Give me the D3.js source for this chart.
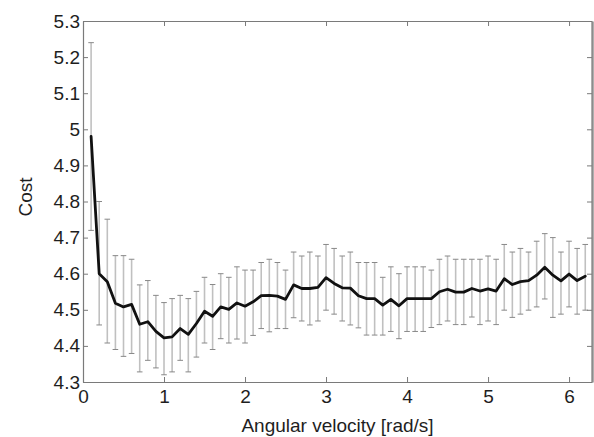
<!DOCTYPE html>
<html>
<head>
<meta charset="utf-8">
<script src="https://cdn.jsdelivr.net/npm/d3@7"></script>
<style>
  html, body { margin: 0; padding: 0; background: #fff; }
  svg { display: block; }
  text { font-family: "Liberation Sans", Arial, Helvetica, sans-serif; }
</style>
</head>
<body>
<svg id="chart" width="594" height="437"></svg>
<script>
// ---- data ----
const velocity = [0.1,0.2,0.3,0.4,0.5,0.6,0.7,0.8,0.9,1.0,
  1.1,1.2,1.3,1.4,1.5,1.6,1.7,1.8,1.9,2.0,
  2.1,2.2,2.3,2.4,2.5,2.6,2.7,2.8,2.9,3.0,
  3.1,3.2,3.3,3.4,3.5,3.6,3.7,3.8,3.9,4.0,
  4.1,4.2,4.3,4.4,4.5,4.6,4.7,4.8,4.9,5.0,
  5.1,5.2,5.3,5.4,5.5,5.6,5.7,5.8,5.9,6.0,
  6.1,6.2];
const meanCost = [4.98,4.60,4.578,4.518,4.508,4.515,4.46,4.467,4.44,4.422,
  4.425,4.448,4.432,4.462,4.496,4.482,4.508,4.501,4.519,4.51,
  4.522,4.539,4.54,4.538,4.529,4.569,4.559,4.559,4.562,4.589,
  4.573,4.561,4.56,4.539,4.531,4.531,4.513,4.529,4.511,4.531,
  4.531,4.531,4.531,4.55,4.557,4.549,4.549,4.559,4.552,4.558,
  4.552,4.586,4.57,4.578,4.581,4.596,4.618,4.596,4.58,4.599,
  4.581,4.593];
const upperCost = [5.24,4.80,4.751,4.65,4.65,4.64,4.569,4.581,4.54,4.52,
  4.531,4.54,4.531,4.551,4.59,4.57,4.60,4.59,4.619,4.61,
  4.61,4.631,4.64,4.631,4.61,4.66,4.649,4.66,4.649,4.681,
  4.67,4.649,4.66,4.631,4.631,4.631,4.59,4.619,4.60,4.619,
  4.619,4.619,4.61,4.64,4.649,4.64,4.64,4.64,4.64,4.649,
  4.64,4.681,4.66,4.67,4.66,4.69,4.711,4.70,4.66,4.69,
  4.67,4.681];
const lowerCost = [4.72,4.458,4.408,4.39,4.371,4.379,4.328,4.36,4.339,4.32,
  4.328,4.36,4.328,4.369,4.408,4.39,4.42,4.408,4.419,4.408,
  4.429,4.448,4.439,4.448,4.448,4.478,4.469,4.458,4.469,4.499,
  4.488,4.469,4.458,4.45,4.43,4.43,4.43,4.44,4.42,4.44,
  4.44,4.44,4.451,4.459,4.469,4.459,4.459,4.48,4.459,4.469,
  4.459,4.499,4.479,4.488,4.499,4.508,4.53,4.479,4.488,4.508,
  4.488,4.499];
const xTicks = [0,1,2,3,4,5,6];
const yTicks = [4.3,4.4,4.5,4.6,4.7,4.8,4.9,5.0,5.1,5.2,5.3];
const xDomain = [0, 2 * Math.PI];
const yDomain = [4.3, 5.3];
const xTitle = "Angular velocity [rad/s]";
const yTitle = "Cost";

// ---- layout ----
const svg = d3.select("#chart");
const L = 83, R = 592, T = 21, B = 382;
const x = d3.scaleLinear().domain(xDomain).range([L, R]);
const y = d3.scaleLinear().domain(yDomain).range([B, T]);

const axisColor = "#7a7a7a";
const textColor = "#1e1e1e";
const fontSize = "19px";

const data = velocity.map((v, i) => ({ v, m: meanCost[i], lo: lowerCost[i], hi: upperCost[i] }));

// error bars
const eb = svg.append("g");
eb.selectAll("line.v").data(data).join("line")
  .attr("class", "v")
  .attr("x1", d => x(d.v)).attr("x2", d => x(d.v))
  .attr("y1", d => y(d.lo)).attr("y2", d => y(d.hi))
  .attr("stroke", "#c0c0c0").attr("stroke-width", 1.6);
["lo", "hi"].forEach(k => {
  eb.selectAll("line.c" + k).data(data).join("line")
    .attr("class", "c" + k)
    .attr("x1", d => x(d.v) - 2.8).attr("x2", d => x(d.v) + 2.8)
    .attr("y1", d => y(d[k])).attr("y2", d => y(d[k]))
    .attr("stroke", "#888").attr("stroke-width", 1);
});

// mean line
svg.append("path")
  .datum(data)
  .attr("fill", "none")
  .attr("stroke", "#111")
  .attr("stroke-width", 2.8)
  .attr("stroke-linejoin", "round")
  .attr("stroke-linecap", "round")
  .attr("d", d3.line().x(d => x(d.v)).y(d => y(d.m)));

// axes
function styleAxis(g) {
  g.selectAll("path.domain").attr("stroke", axisColor).attr("stroke-width", 1.2);
  g.selectAll(".tick line").attr("stroke", axisColor).attr("stroke-width", 1);
  g.selectAll(".tick text").attr("fill", textColor).style("font-size", fontSize);
}
const fmtY = d => (Math.round(d * 10) / 10).toString();

svg.append("g").attr("transform", `translate(0,${B})`)
  .call(d3.axisBottom(x).tickValues(xTicks).tickFormat(d3.format("d")).tickSize(-5).tickSizeOuter(0).tickPadding(8))
  .call(styleAxis);
svg.append("g").attr("transform", `translate(0,${T})`)
  .call(d3.axisTop(x).tickValues(xTicks).tickFormat("").tickSize(-5).tickSizeOuter(0))
  .call(styleAxis);
svg.append("g").attr("transform", `translate(${L},0)`)
  .call(d3.axisLeft(y).tickValues(yTicks).tickFormat(fmtY).tickSize(-5).tickSizeOuter(0).tickPadding(3))
  .call(styleAxis);
const rightAxis = svg.append("g").attr("transform", `translate(${R},0)`)
  .call(d3.axisRight(y).tickValues(yTicks).tickFormat("").tickSize(-5).tickSizeOuter(0))
  .call(styleAxis);
rightAxis.select("path.domain").attr("stroke", "#8c8c8c").attr("stroke-width", 2.4);

svg.selectAll(".tick text").attr("font-family", null);

// titles
svg.append("text")
  .attr("x", (L + R) / 2).attr("y", 432)
  .attr("text-anchor", "middle")
  .attr("fill", textColor).style("font-size", fontSize)
  .text(xTitle);
svg.append("text")
  .attr("transform", `translate(32,197) rotate(-90)`)
  .attr("text-anchor", "middle")
  .attr("fill", textColor).style("font-size", fontSize)
  .text(yTitle);
</script>
</body>
</html>
